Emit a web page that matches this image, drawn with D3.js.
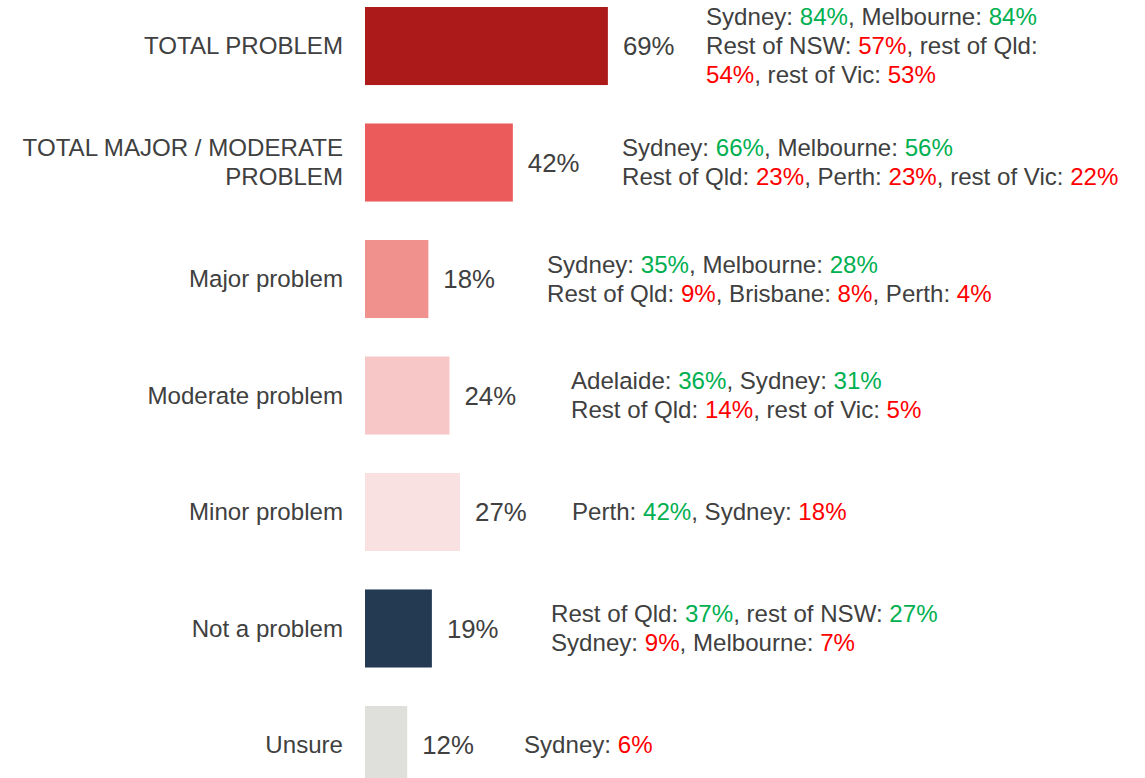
<!DOCTYPE html>
<html>
<head>
<meta charset="utf-8">
<script src="https://cdn.jsdelivr.net/npm/d3@7"></script>
<style>
  html, body { margin: 0; padding: 0; background: #fff; }
  svg { display: block; }
</style>
</head>
<body>
<div id="chart"></div>
<script>
// ── data ────────────────────────────────────────────────────────────────
const categories = [
  ['TOTAL PROBLEM'],
  ['TOTAL MAJOR / MODERATE', 'PROBLEM'],
  ['Major problem'],
  ['Moderate problem'],
  ['Minor problem'],
  ['Not a problem'],
  ['Unsure']
];
const values = [69, 42, 18, 24, 27, 19, 12];
const barColors = ['#ac1a1a', '#eb5b5b', '#f0918e', '#f6c7c6', '#fae1e1', '#243a52', '#dfe0db'];

// annotation lines: [text, tone] — tone: 'n' neutral, 'g' higher, 'r' lower
const notes = [
  [
    [['Sydney: ', 'n'], ['84%', 'g'], [', Melbourne: ', 'n'], ['84%', 'g']],
    [['Rest of NSW: ', 'n'], ['57%', 'r'], [', rest of Qld:', 'n']],
    [['54%', 'r'], [', rest of Vic: ', 'n'], ['53%', 'r']]
  ],
  [
    [['Sydney: ', 'n'], ['66%', 'g'], [', Melbourne: ', 'n'], ['56%', 'g']],
    [['Rest of Qld: ', 'n'], ['23%', 'r'], [', Perth: ', 'n'], ['23%', 'r'], [', rest of Vic: ', 'n'], ['22%', 'r']]
  ],
  [
    [['Sydney: ', 'n'], ['35%', 'g'], [', Melbourne: ', 'n'], ['28%', 'g']],
    [['Rest of Qld: ', 'n'], ['9%', 'r'], [', Brisbane: ', 'n'], ['8%', 'r'], [', Perth: ', 'n'], ['4%', 'r']]
  ],
  [
    [['Adelaide: ', 'n'], ['36%', 'g'], [', Sydney: ', 'n'], ['31%', 'g']],
    [['Rest of Qld: ', 'n'], ['14%', 'r'], [', rest of Vic: ', 'n'], ['5%', 'r']]
  ],
  [
    [['Perth: ', 'n'], ['42%', 'g'], [', Sydney: ', 'n'], ['18%', 'r']]
  ],
  [
    [['Rest of Qld: ', 'n'], ['37%', 'g'], [', rest of NSW: ', 'n'], ['27%', 'g']],
    [['Sydney: ', 'n'], ['9%', 'r'], [', Melbourne: ', 'n'], ['7%', 'r']]
  ],
  [
    [['Sydney: ', 'n'], ['6%', 'r']]
  ]
];

// ── layout ──────────────────────────────────────────────────────────────
const width = 1145;
const height = 778;
const barLeft = 365;
const noteX = [706, 622, 547, 571, 572, 551, 524];
const toneColor = { n: '#404040', g: '#00b050', r: '#ff0000' };
const font = "'Liberation Sans', Arial, sans-serif";
const fontSize = 24.1;
const valueSize = 25.8;
const lineH = 29;

const svg = d3.select('#chart').append('svg')
  .attr('width', width)
  .attr('height', height);

const x = d3.scaleLinear().domain([0, 100]).range([0, 352]);
const y = d3.scaleBand()
  .domain(d3.range(values.length))
  .range([7, 784])
  .paddingInner(0.33)
  .paddingOuter(0);

const rows = svg.selectAll('g.row')
  .data(values)
  .join('g')
  .attr('class', 'row')
  .attr('transform', (d, i) => `translate(0,${y(i) + y.bandwidth() / 2})`);

// bars
rows.append('rect')
  .attr('x', barLeft)
  .attr('y', -y.bandwidth() / 2)
  .attr('width', d => x(d))
  .attr('height', y.bandwidth())
  .attr('fill', (d, i) => barColors[i]);

// value labels
rows.append('text')
  .attr('x', d => barLeft + x(d) + 15)
  .attr('dy', '0.35em')
  .attr('fill', '#404040')
  .attr('font-family', font)
  .attr('font-size', valueSize + 'px')
  .text(d => d + '%');

// category labels
rows.append('text')
  .attr('text-anchor', 'end')
  .attr('fill', '#404040')
  .attr('font-family', font)
  .attr('font-size', fontSize + 'px')
  .each(function(d, i) {
    const lines = categories[i];
    const top = -(lines.length - 1) * lineH / 2;
    d3.select(this).selectAll('tspan')
      .data(lines)
      .join('tspan')
      .attr('x', 343)
      .attr('y', (l, j) => top + j * lineH)
      .attr('dy', '0.35em')
      .text(l => l);
  });

// regional annotations
rows.append('text')
  .attr('font-family', font)
  .attr('font-size', fontSize + 'px')
  .each(function(d, i) {
    const lines = notes[i];
    const top = -(lines.length - 1) * lineH / 2;
    const t = d3.select(this);
    lines.forEach((segs, j) => {
      segs.forEach((s, k) => {
        const ts = t.append('tspan')
          .attr('fill', toneColor[s[1]])
          .style('white-space', 'pre')
          .text(s[0]);
        if (k === 0) {
          ts.attr('x', noteX[i]).attr('y', top + j * lineH).attr('dy', '0.35em');
        }
      });
    });
  });
</script>
</body>
</html>
